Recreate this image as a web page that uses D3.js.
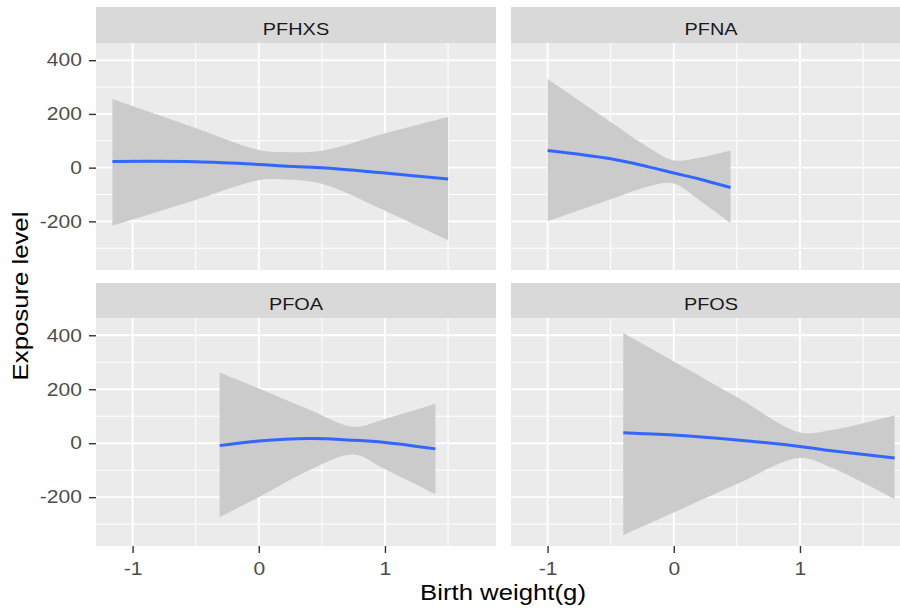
<!DOCTYPE html>
<html>
<head>
<meta charset="utf-8">
<script src="https://cdn.jsdelivr.net/npm/d3@7"></script>
<style>
  body { margin: 0; background: #fff; }
  svg { display: block; font-family: "Liberation Sans", Arial, sans-serif; }
</style>
</head>
<body>
<script>
// facets in ggplot order
const facets = ["PFHXS", "PFNA", "PFOA", "PFOS"]

// smooth fit + confidence band
const pfhxsX = [-1.16, -0.5, 0, 0.2, 0.5, 1.0, 1.5]
const pfhxsFit = [23, 22, 12, 6, 0, -20, -42]
const pfhxsLow = [-216, -120, -47, -44, -60, -160, -270]
const pfhxsHigh = [256, 148, 66, 58, 63, 128, 189]

const pfnaX = [-1.0, -0.5, -0.2, 0, 0.2, 0.45]
const pfnaFit = [64, 33, 3, -20, -42, -74]
const pfnaLow = [-200, -118, -70, -59, -120, -206]
const pfnaHigh = [330, 170, 75, 27, 37, 64]

const pfoaX = [-0.31, 0, 0.4, 0.75, 1.0, 1.4]
const pfoaFit = [-9, 8, 17, 11, 3, -21]
const pfoaLow = [-274, -200, -100, -42, -97, -189]
const pfoaHigh = [262, 203, 125, 61, 90, 146]

const pfosX = [-0.4, 0, 0.5, 1.0, 1.25, 1.75]
const pfosFit = [39, 30, 12, -12, -28, -55]
const pfosLow = [-341, -257, -151, -55, -91, -207]
const pfosHigh = [408, 303, 171, 40, 49, 104]

const xTicks = [-1, 0, 1]
const xMinor = [-0.5, 0.5, 1.5]
const yTicks = [-200, 0, 200, 400]
const yMinor = [-300, -100, 100, 300]

const series = [
  {x: pfhxsX, fit: pfhxsFit, lo: pfhxsLow, hi: pfhxsHigh},
  {x: pfnaX, fit: pfnaFit, lo: pfnaLow, hi: pfnaHigh},
  {x: pfoaX, fit: pfoaFit, lo: pfoaLow, hi: pfoaHigh},
  {x: pfosX, fit: pfosFit, lo: pfosLow, hi: pfosHigh}
]

const w = 900
const h = 609
const colX = [96, 511]
const panelW = 400
const stripTop = [7, 283]
const plotTop = [43, 318]
const plotBottom = [270, 546]
const sx = 1.17 // text in the reference is a bit wide

const svg = d3.select("body").append("svg").attr("width", w).attr("height", h)

const yDomain = [-381, 464]
const xDomain = [-1.29, 1.88]
const curve = d3.curveCatmullRom.alpha(0.5)

facets.forEach((name, i) => {
  const col = i % 2, row = Math.floor(i / 2)
  const x = d3.scaleLinear().domain(xDomain).range([colX[col], colX[col] + panelW])
  const y = d3.scaleLinear().domain(yDomain).range([plotBottom[row], plotTop[row]])
  const g = svg.append("g")

  // strip
  g.append("rect").attr("x", colX[col]).attr("y", stripTop[row]).attr("width", panelW)
    .attr("height", plotTop[row] - stripTop[row]).attr("fill", "#d9d9d9")
  g.append("text").attr("transform", "translate(" + (colX[col] + panelW / 2) + "," + (plotTop[row] - 8) + ") scale(" + sx + ",1)")
    .attr("text-anchor", "middle").attr("font-size", 17).attr("fill", "#1a1a1a").text(name)

  // panel
  g.append("rect").attr("x", colX[col]).attr("y", plotTop[row]).attr("width", panelW)
    .attr("height", plotBottom[row] - plotTop[row]).attr("fill", "#ebebeb")
  const grid = g.append("g")
  grid.selectAll(".ymin").data(yMinor).enter().append("line")
    .attr("x1", colX[col]).attr("x2", colX[col] + panelW).attr("y1", d => y(d)).attr("y2", d => y(d))
    .attr("stroke", "#fff").attr("stroke-width", 1)
  grid.selectAll(".xmin").data(xMinor).enter().append("line")
    .attr("y1", plotTop[row]).attr("y2", plotBottom[row]).attr("x1", d => x(d)).attr("x2", d => x(d))
    .attr("stroke", "#fff").attr("stroke-width", 1)
  grid.selectAll(".ymaj").data(yTicks).enter().append("line")
    .attr("x1", colX[col]).attr("x2", colX[col] + panelW).attr("y1", d => y(d)).attr("y2", d => y(d))
    .attr("stroke", "#fff").attr("stroke-width", 1.9)
  grid.selectAll(".xmaj").data(xTicks).enter().append("line")
    .attr("y1", plotTop[row]).attr("y2", plotBottom[row]).attr("x1", d => x(d)).attr("x2", d => x(d))
    .attr("stroke", "#fff").attr("stroke-width", 1.9)

  // band + fit
  const s = series[i]
  const pts = s.x.map((v, k) => ({x: v, fit: s.fit[k], lo: s.lo[k], hi: s.hi[k]}))
  g.append("path").datum(pts).attr("fill", "#cbcbcb")
    .attr("d", d3.area().x(d => x(d.x)).y0(d => y(d.lo)).y1(d => y(d.hi)).curve(curve))
  g.append("path").datum(pts).attr("fill", "none").attr("stroke", "#3366ff").attr("stroke-width", 3)
    .attr("d", d3.line().x(d => x(d.x)).y(d => y(d.fit)).curve(curve))

  // axes only on the outer panels
  if (col === 0) {
    const ax = g.append("g").attr("transform", "translate(" + colX[col] + ",0)")
      .call(d3.axisLeft(y).tickValues(yTicks).tickSize(7).tickPadding(5).tickFormat(d => String(d)))
    ax.select(".domain").remove()
    ax.selectAll("line").attr("stroke", "#333").attr("stroke-width", 1.4)
    ax.selectAll("text").attr("font-size", 18).attr("fill", "#4d4d4d").attr("font-family", null)
      .attr("transform", "scale(" + sx + ",1)")
  }
  if (row === 1) {
    const ax = g.append("g").attr("transform", "translate(0," + plotBottom[row] + ")")
      .call(d3.axisBottom(x).tickValues(xTicks).tickSize(7).tickPadding(9).tickFormat(d => String(d)))
    ax.select(".domain").remove()
    ax.selectAll("line").attr("stroke", "#333").attr("stroke-width", 1.4)
    ax.selectAll("text").attr("font-size", 18).attr("fill", "#4d4d4d").attr("font-family", null)
      .attr("transform", "scale(" + sx + ",1)")
  }
})

// axis titles
svg.append("text").attr("transform", "translate(503,600) scale(" + sx + ",1)")
  .attr("text-anchor", "middle").attr("font-size", 22).attr("fill", "#000").text("Birth weight(g)")
svg.append("text").attr("transform", "translate(28,296) rotate(-90) scale(" + sx + ",1)")
  .attr("text-anchor", "middle").attr("font-size", 22).attr("fill", "#000").text("Exposure level")
</script>
</body>
</html>
